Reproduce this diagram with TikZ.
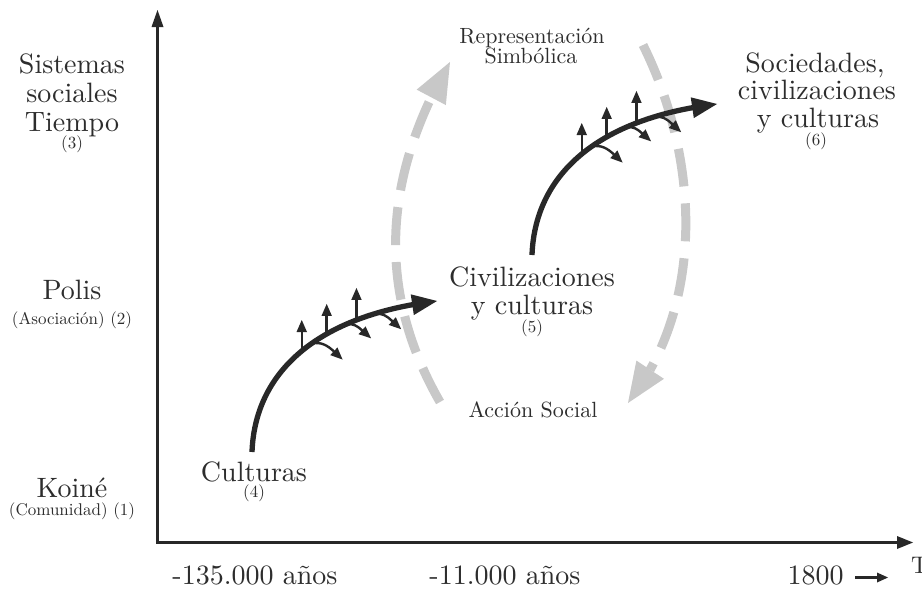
\documentclass[tikz,border=0pt]{standalone}
\usepackage{fontspec}
\setmainfont{lmroman10-regular.otf}
\usetikzlibrary{arrows.meta,bending}
\definecolor{txt}{RGB}{45,45,45}
\definecolor{ink}{RGB}{40,40,40}
\definecolor{ghost}{RGB}{200,200,200}
\begin{document}
\begin{tikzpicture}[x=1pt,y=-1pt,
  lbl/.style={inner sep=0pt, anchor=base, text=txt},
  big/.style={lbl, font=\fontsize{28}{30}\selectfont},
  mid/.style={lbl, font=\fontsize{22}{24}\selectfont},
  sml/.style={lbl, font=\fontsize{17}{18}\selectfont},
  axis/.style={draw=ink, line width=3pt, line join=miter},
  mainarrow/.style={draw=ink, line width=5.3pt, -{Triangle[length=25pt,width=21pt,line width=0pt]}},
  twig/.style={draw=ink, line width=2.4pt, -{Triangle[length=12pt,width=10.5pt,line width=0pt]}},
  ghostarrow/.style={draw=ghost, line width=9pt, dash pattern=on 38pt off 17pt, -{Triangle[length=40pt,width=33pt,line width=0pt]}},
  growth/.pic={
    \draw[mainarrow] (0,0) .. controls (3,-82) and (68,-137) .. (185,-151)
      coordinate[pos=0.5] (-u1) coordinate[pos=0.62] (-u2) coordinate[pos=0.74] (-u3)
      coordinate[pos=0.55] (-r1) coordinate[pos=0.7] (-r2) coordinate[pos=0.8] (-r3);
    \draw[twig] (-u1) -- ++(0,-31);
    \draw[twig] (-u2) -- ++(0,-30);
    \draw[twig] (-u3) -- ++(0,-32);
    \draw[twig] (-r1) .. controls +(14,-3) and +(-10,-9) .. ++(31,16);
    \draw[twig] (-r2) .. controls +(11,-2) and +(-9,-7) .. ++(25,14);
    \draw[twig] (-r3) .. controls +(13,-3) and +(-10,-8) .. ++(28,15);
  }]
\fill[white] (0,0) rectangle (922,589);
\useasboundingbox (0,0) rectangle (922,589);

% axes
\coordinate (O) at (157.5,542.5);
\coordinate (Ytop) at (157.5,10);
\coordinate (Xend) at (913,542.5);
\draw[axis, {Triangle[length=17pt,width=12pt,line width=0pt]}-{Triangle[length=16pt,width=13pt,line width=0pt]}] (Ytop) -- (O) -- (Xend);

% dashed grey cycle
\coordinate (dl1) at (440,402);
\coordinate (dl2) at (450,62);
\coordinate (dr1) at (643,45);
\coordinate (dr2) at (628,403);
\draw[ghostarrow] (dl1) .. controls (370,280) and (390,165) .. (dl2);
\draw[ghostarrow] (dr1) .. controls (700,160) and (705,305) .. (dr2);

% growth arrows
\pic (g1) at (252,452) {growth};
\pic (g2) at (532,255) {growth};

% left labels
\node[big] (sis1) at (72,73) {Sistemas};
\node[big] (sis2) at (72,102) {sociales};
\node[big] (sis3) at (72,131) {Tiempo};
\node[sml] (sis4) at (72,148) {(3)};
\node[big] (pol1) at (72,299) {Polis};
\node[sml] (pol2) at (72,324) {(Asociación) (2)};
\node[big] (koi1) at (72,497) {Koiné};
\node[sml] (koi2) at (72,515) {(Comunidad) (1)};

% stage labels
\node[big] (cul1) at (254,481) {Culturas};
\node[sml] (cul2) at (254,497) {(4)};
\node[big] (civ1) at (532,286) {Civilizaciones};
\node[big] (civ2) at (532,314) {y culturas};
\node[sml] (civ3) at (532,332) {(5)};
\node[big] (soc1) at (815,72) {Sociedades,};
\node[big] (soc2) at (817,99) {civilizaciones};
\node[big] (soc3) at (818,127) {y culturas};
\node[sml] (soc4) at (816,145) {(6)};
\node[mid] (rep1) at (532,43) {Representación};
\node[mid] (rep2) at (531,63) {Simbólica};
\node[mid] (acc) at (533,417) {Acción Social};

% time axis labels
\node[big] (t1) at (255,584) {-135.000 años};
\node[big] (t2) at (505,584) {-11.000 años};
\node[big] (t3) at (815.5,584) {1800};
\coordinate (a1) at (855,577.5);
\coordinate (a2) at (888,577.5);
\draw[ink, line width=2.6pt, -{Triangle[length=11pt,width=10pt,line width=0pt]}] (a1) -- (a2);
\node[lbl, font=\fontsize{24}{26}\selectfont, anchor=base west] (T) at (911,573) {T};
\end{tikzpicture}
\end{document}
